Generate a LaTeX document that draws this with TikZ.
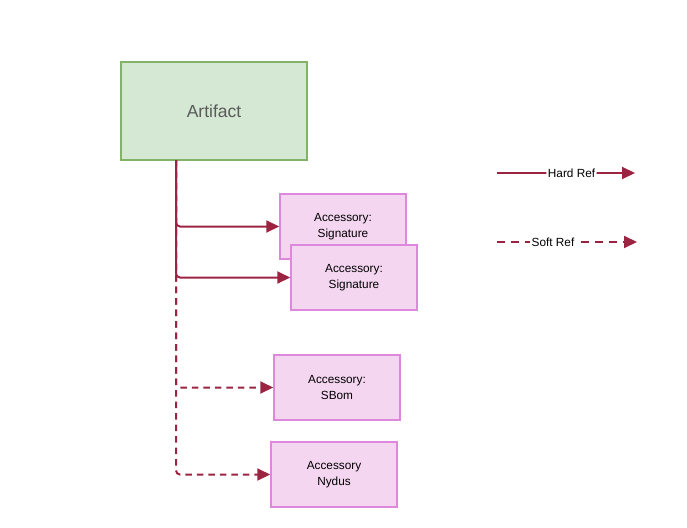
\documentclass[tikz,border=0pt]{standalone}
\usepackage{fontspec}
\setmainfont{Liberation Sans}
\usepackage{tikz}
\usetikzlibrary{arrows.meta}
\definecolor{artfill}{RGB}{213,232,212}
\definecolor{artline}{RGB}{130,179,102}
\definecolor{accfill}{RGB}{244,214,241}
\definecolor{accline}{RGB}{221,136,221}
\definecolor{refred}{RGB}{155,36,66}
\definecolor{arttext}{RGB}{90,90,90}

\begin{document}
\begin{tikzpicture}[x=1pt,y=-1pt,
	artbox/.style={draw=artline,fill=artfill,line width=1.5pt,minimum width=186pt,minimum height=98pt,inner sep=0pt,text=arttext,font=\fontsize{17.5}{20}\selectfont},
	accbox/.style={draw=accline,fill=accfill,line width=1.5pt,minimum width=126pt,minimum height=65pt,inner sep=0pt,align=center,font=\fontsize{11.8}{15.5}\selectfont},
	hardref/.style={draw=refred,line width=2pt,rounded corners=4pt,-{Triangle[length=13pt,width=12pt]}},
	softref/.style={hardref,dash pattern=on 6.5pt off 5pt},
	reflabel/.style={fill=white,inner sep=1.5pt,font=\fontsize{11.8}{14}\selectfont}]
				\useasboundingbox (0,0) rectangle (687,527);
				
				\node[artbox] (art) at (214,111) {Artifact};
				
				\node[accbox] (sig1) at (343,226.5) {Accessory:\\Signature};
				\node[accbox] (sig2) at (354,277.5) {Accessory:\\Signature};
				\node[accbox] (sbom) at (337,387.5) {Accessory:\\SBom};
				\node[accbox] (nydus) at (334,474.5) {Accessory\\Nydus};
				
				\coordinate (trunk) at (176,160);
				\draw[softref] (trunk) |- (nydus.west);
				\draw[softref] (trunk) |- (sbom.west);
				\draw[hardref] (trunk) |- (sig2.west);
				\draw[hardref] (trunk) |- (sig1.west);
				
				\coordinate (hardA) at (497,173);
				\coordinate (hardB) at (635,173);
				\draw[hardref] (hardA) -- (hardB) node[reflabel,pos=0.54,text=black] (hardlbl) {Hard Ref};
				
				\coordinate (softA) at (497,242);
				\coordinate (softB) at (637,242);
				\draw[softref,dash pattern=on 8pt off 6pt] (softA) -- (softB) node[reflabel,pos=0.40,text=black] (softlbl) {Soft Ref};
\end{tikzpicture}
\end{document}
